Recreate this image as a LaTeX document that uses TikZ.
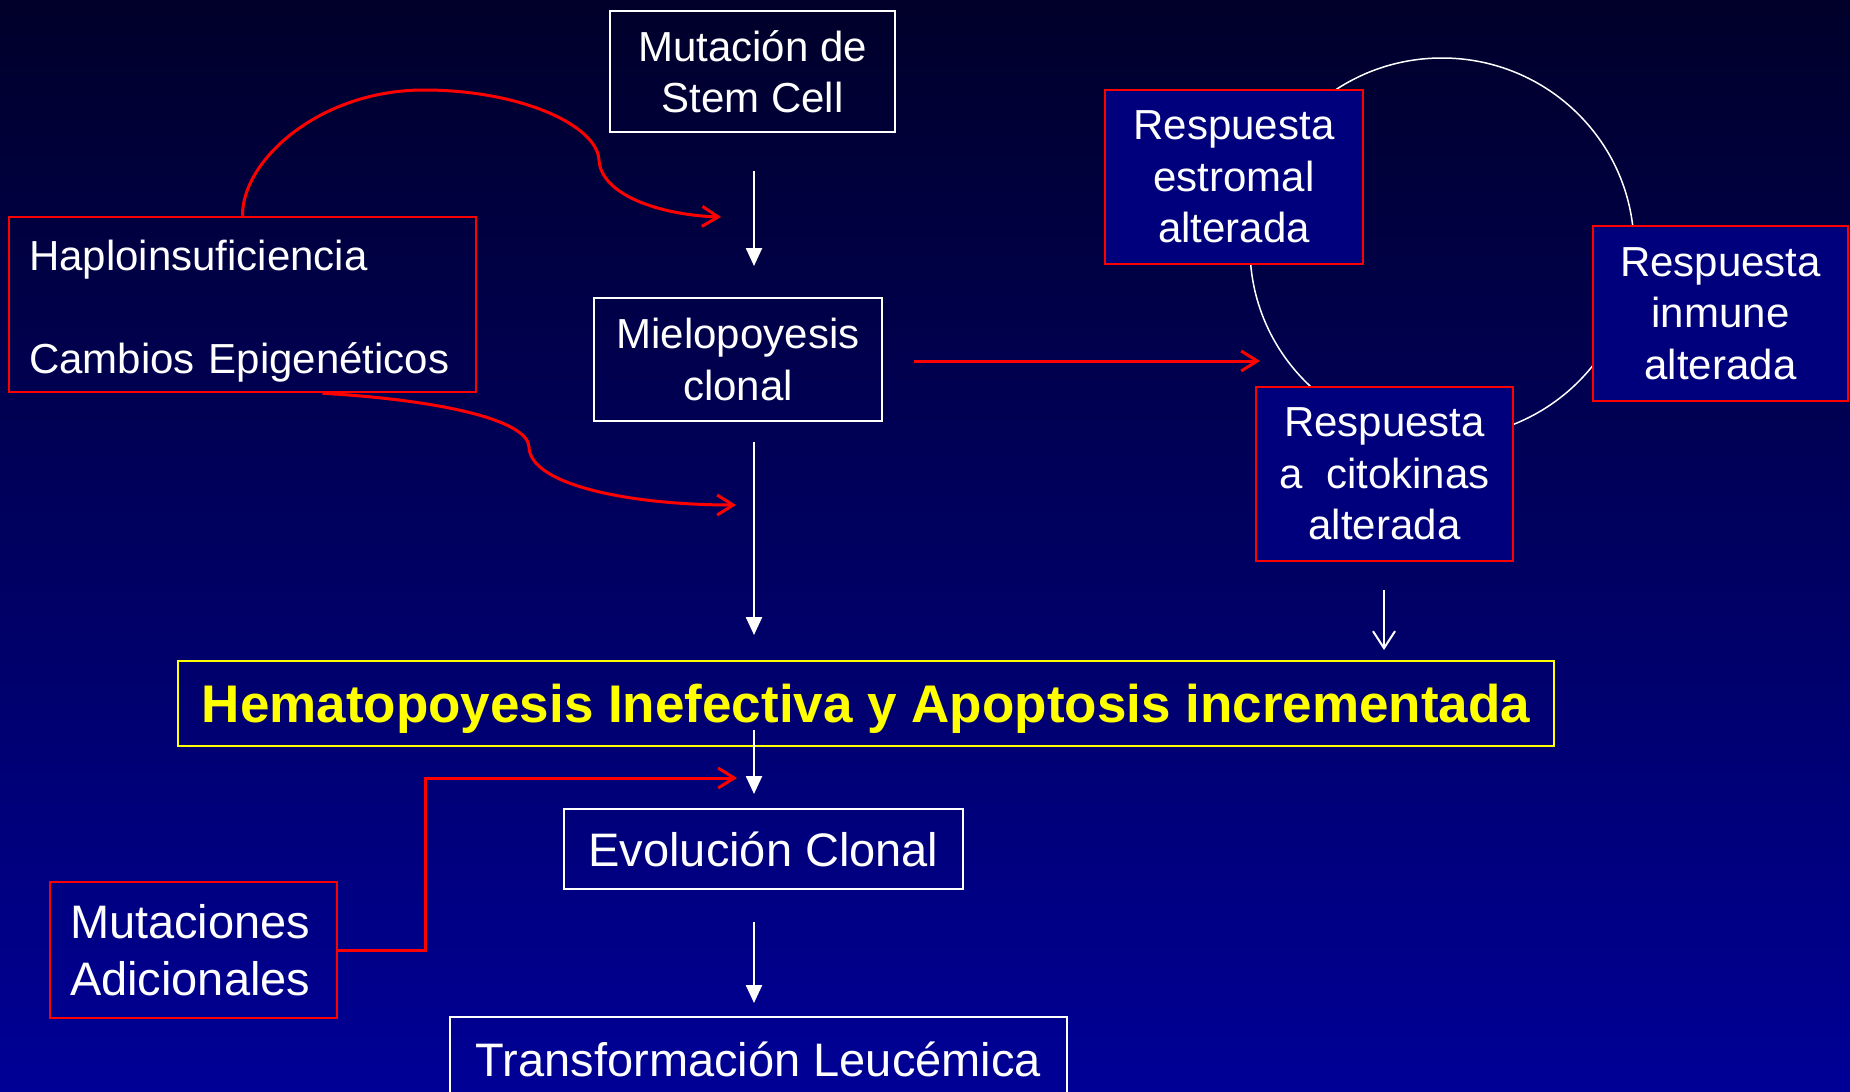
\documentclass[tikz,border=0pt]{standalone}
\usepackage{fontspec}
\setmainfont{Liberation Sans}
\usetikzlibrary{arrows.meta}
\definecolor{bgtop}{RGB}{0,0,42}
\definecolor{bgbot}{RGB}{0,0,150}
\definecolor{boxblue}{RGB}{0,0,125}
\definecolor{redl}{RGB}{255,0,0}
\definecolor{yel}{RGB}{255,255,0}
\begin{document}
\begin{tikzpicture}[x=1pt,y=-1pt,
 wbox/.style={draw=white,line width=2pt,text=white,inner sep=0pt,align=center,font=\fontsize{42}{51.5}\selectfont},
 rbox/.style={draw=redl,line width=2.5pt,text=white,inner sep=0pt,align=center,font=\fontsize{42}{51.5}\selectfont},
 bigtext/.style={font=\fontsize{47}{57}\selectfont},
 warrow/.style={draw=white,line width=2.5pt,-{Triangle[width=16pt,length=18pt]}},
 wvarrow/.style={draw=white,line width=2pt,-{Straight Barb[width=22pt,length=17pt]}},
 rarrow/.style={draw=redl,line width=3pt,-{Straight Barb[width=20pt,length=16pt]}},
 ring/.style={draw=white,line width=1.5pt}
]
\useasboundingbox (0,0) rectangle (1850,1092);
\clip (0,0) rectangle (1850,1092);
\shade[top color=bgtop,bottom color=bgbot] (0,0) rectangle (1850,1092);

% ring behind the response boxes
\draw[ring] (1442,248) ellipse [x radius=192, y radius=190];

% boxes
\node[wbox,minimum width=285,minimum height=121] (mut) at (752.5,71.5) {Mutación de\\ Stem Cell};
\node[wbox,minimum width=288,minimum height=123] (miel) at (738,359.5) {Mielopoyesis\\clonal};
\node[rbox,minimum width=467,minimum height=175,inner xsep=20pt,text width=427pt,align=left] (hap) at (242.5,304.5) {\rule{0pt}{44pt}Haploinsuficiencia\\[51.5pt]Cambios Epigenéticos};
\node[rbox,fill=boxblue,minimum width=258,minimum height=174] (estr) at (1234,177) {Respuesta\\ estromal\\alterada};
\node[rbox,fill=boxblue,minimum width=255,minimum height=175] (inm) at (1720.5,313.5) {Respuesta\\ inmune\\alterada};
\node[rbox,fill=boxblue,minimum width=257,minimum height=174] (cit) at (1384.5,474) {Respuesta\\a\ \ citokinas\\alterada};
\node[draw=yel,line width=2pt,text=yel,inner sep=0pt,minimum width=1376,minimum height=85,text depth=0pt,font=\fontsize{53}{60}\selectfont\bfseries] (hem) at (866,703.5) {Hematopoyesis Inefectiva y Apoptosis incrementada};
\node[wbox,bigtext,minimum width=399,minimum height=80] (evo) at (763.5,849) {Evolución Clonal};
\node[wbox,bigtext,minimum width=617,minimum height=84] (tra) at (758.5,1059) {Transformación Leucémica};
\node[rbox,bigtext,minimum width=287,minimum height=136,inner xsep=20pt,text width=247pt,align=left] (mad) at (193.5,950) {Mutaciones\\Adicionales};

% free ends of connectors
\coordinate (a1s) at (754,171);
\coordinate (a1e) at (754,266);
\coordinate (a2s) at (754,442);
\coordinate (a2e) at (754,635);
\coordinate (a3s) at (754,730);
\coordinate (a3e) at (754,794);
\coordinate (a4s) at (754,922);
\coordinate (a4e) at (754,1003);
\coordinate (a5s) at (1384,590);
\coordinate (a5e) at (1384,650);
\coordinate (rhs) at (914,361);
\coordinate (rhe) at (1260,361);
\coordinate (r1e) at (721,217);
\coordinate (r2e) at (736,505);
\coordinate (r3e) at (737,778);

% white arrows
\draw[warrow] (a1s) -- (a1e);
\draw[warrow] (a2s) -- (a2e);
\draw[warrow] (a3s) -- (a3e);
\draw[warrow] (a4s) -- (a4e);
\draw[wvarrow] (a5s) -- (a5e);

% red arrows
\draw[rarrow] (rhs) -- (rhe);
\draw[rarrow] (hap.north) .. controls (242,160) and (320,90) .. (424,90)
  .. controls (520,90) and (597,125) .. (599,160)
  .. controls (601,195) and (660,215) .. (r1e);
\draw[rarrow] ([xshift=80pt]hap.south) .. controls (440,400) and (528,420) .. (529,447)
  .. controls (530,485) and (630,505) .. (r2e);
\draw[rarrow] (mad.east) -- (425,950) -- (425,778) -- (r3e);
\end{tikzpicture}
\end{document}
